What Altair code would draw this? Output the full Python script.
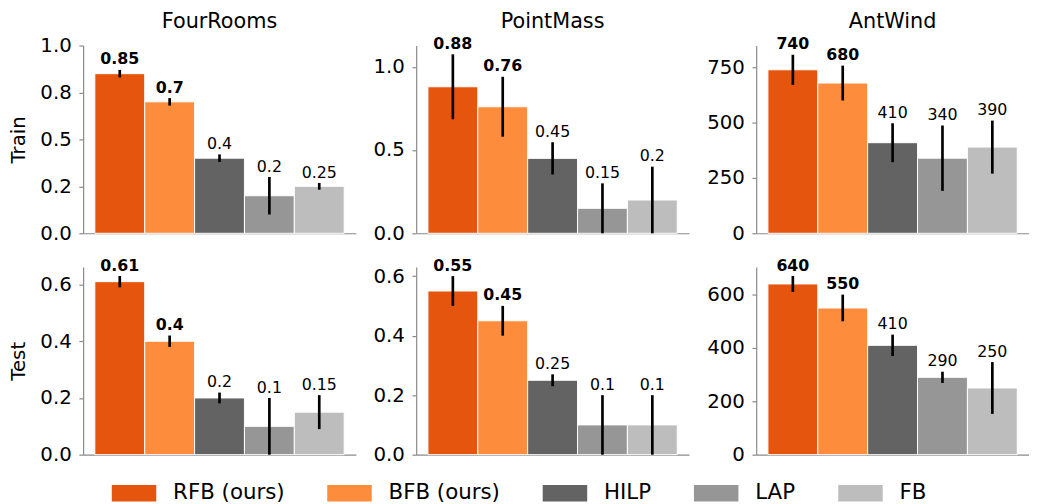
import altair as alt
import pandas as pd

envs = ["FourRooms", "PointMass", "AntWind"]
splits = ["Train", "Test"]
methods = ["RFB (ours)", "BFB (ours)", "HILP", "LAP", "FB"]
colors = ["#e6550d", "#fd8d3c", "#636363", "#969696", "#bdbdbd"]
bold_methods = ["RFB (ours)", "BFB (ours)"]

# values, errors, labels per panel
fourrooms_train_values = [0.85, 0.70, 0.40, 0.20, 0.25]
fourrooms_train_errors = [0.02, 0.02, 0.02, 0.10, 0.018]
fourrooms_train_labels = ["0.85", "0.7", "0.4", "0.2", "0.25"]

pointmass_train_values = [0.88, 0.76, 0.45, 0.15, 0.20]
pointmass_train_errors = [0.195, 0.18, 0.097, 0.15, 0.20]
pointmass_train_labels = ["0.88", "0.76", "0.45", "0.15", "0.2"]

antwind_train_values = [740, 680, 410, 340, 390]
antwind_train_errors = [68, 79, 88, 148, 120]
antwind_train_labels = ["740", "680", "410", "340", "390"]

fourrooms_test_values = [0.61, 0.40, 0.20, 0.10, 0.15]
fourrooms_test_errors = [0.02, 0.02, 0.019, 0.10, 0.06]
fourrooms_test_labels = ["0.61", "0.4", "0.2", "0.1", "0.15"]

pointmass_test_values = [0.55, 0.45, 0.25, 0.10, 0.10]
pointmass_test_errors = [0.05, 0.05, 0.02, 0.10, 0.10]
pointmass_test_labels = ["0.55", "0.45", "0.25", "0.1", "0.1"]

antwind_test_values = [640, 550, 410, 290, 250]
antwind_test_errors = [30, 50, 40, 21, 97]
antwind_test_labels = ["640", "550", "410", "290", "250"]

# axis ticks and domain tops
fourrooms_train_ticks = [0.0, 0.25, 0.5, 0.75, 1.0]
fourrooms_train_ticklabels = ["0.0", "0.2", "0.5", "0.8", "1.0"]
fourrooms_train_ymax = 1.0
pointmass_train_ticks = [0.0, 0.5, 1.0]
pointmass_train_ticklabels = ["0.0", "0.5", "1.0"]
pointmass_train_ymax = 1.128
antwind_train_ticks = [0, 250, 500, 750]
antwind_train_ticklabels = ["0", "250", "500", "750"]
antwind_train_ymax = 850
fourrooms_test_ticks = [0.0, 0.2, 0.4, 0.6]
fourrooms_test_ticklabels = ["0.0", "0.2", "0.4", "0.6"]
fourrooms_test_ymax = 0.662
pointmass_test_ticks = [0.0, 0.2, 0.4, 0.6]
pointmass_test_ticklabels = ["0.0", "0.2", "0.4", "0.6"]
pointmass_test_ymax = 0.631
antwind_test_ticks = [0, 200, 400, 600]
antwind_test_ticklabels = ["0", "200", "400", "600"]
antwind_test_ymax = 704

panels_data = {
    ("FourRooms", "Train"): (fourrooms_train_values, fourrooms_train_errors, fourrooms_train_labels,
                             fourrooms_train_ticks, fourrooms_train_ticklabels, fourrooms_train_ymax),
    ("PointMass", "Train"): (pointmass_train_values, pointmass_train_errors, pointmass_train_labels,
                             pointmass_train_ticks, pointmass_train_ticklabels, pointmass_train_ymax),
    ("AntWind", "Train"): (antwind_train_values, antwind_train_errors, antwind_train_labels,
                           antwind_train_ticks, antwind_train_ticklabels, antwind_train_ymax),
    ("FourRooms", "Test"): (fourrooms_test_values, fourrooms_test_errors, fourrooms_test_labels,
                            fourrooms_test_ticks, fourrooms_test_ticklabels, fourrooms_test_ymax),
    ("PointMass", "Test"): (pointmass_test_values, pointmass_test_errors, pointmass_test_labels,
                            pointmass_test_ticks, pointmass_test_ticklabels, pointmass_test_ymax),
    ("AntWind", "Test"): (antwind_test_values, antwind_test_errors, antwind_test_labels,
                          antwind_test_ticks, antwind_test_ticklabels, antwind_test_ymax),
}

FONT = "DejaVu Sans"
AXIS_GRAY = "#8a8a8a"
W, H = 276, 190

legend = alt.Legend(
    orient="none", legendX=29, legendY=430, direction="horizontal", title=None,
    symbolType="M-1,-0.37H1V0.37H-1Z", symbolSize=2025, symbolStrokeWidth=0,
    symbolOpacity=1, labelFontSize=21.6, labelFont=FONT, labelColor="black",
    labelOffset=17, columnPadding=43,
)


def label_expr(ticks, labels):
    parts = []
    for t, l in zip(ticks, labels):
        parts.append(f"abs(datum.value - ({t})) < 1e-9 ? '{l}'")
    return " : ".join(parts) + " : ''"


def make_panel(env, split, show_title, show_ytitle):
    vals, errs, labs, ticks, ticklabels, ymax = panels_data[(env, split)]
    df = pd.DataFrame({
        "method": methods,
        "value": vals,
        "lo": [v - e for v, e in zip(vals, errs)],
        "hi": [v + e for v, e in zip(vals, errs)],
        "label": labs,
        "bold": [m in bold_methods for m in methods],
    })
    xenc = alt.X("method:N", sort=methods,
                 scale=alt.Scale(paddingInner=0, paddingOuter=0.235),
                 axis=alt.Axis(title=None, labels=False, ticks=False, domain=True,
                               domainColor=AXIS_GRAY, grid=False))
    yscale = alt.Scale(domain=[0, ymax], nice=False, zero=True)
    yaxis = alt.Axis(values=ticks, labelExpr=label_expr(ticks, ticklabels),
                     title=split if show_ytitle else None, grid=False)
    base = alt.Chart(df).encode(x=xenc)
    bars = base.mark_bar(stroke="white", strokeWidth=1).encode(
        y=alt.Y("value:Q", scale=yscale, axis=yaxis),
        color=alt.Color("method:N", sort=methods,
                        scale=alt.Scale(domain=methods, range=colors), legend=legend),
    )
    rules = base.mark_rule(color="black", strokeWidth=2.7).encode(
        y=alt.Y("lo:Q", scale=yscale, axis=yaxis), y2="hi:Q")
    txt_b = base.transform_filter("datum.bold").mark_text(
        fontWeight="bold", fontSize=16, dy=-5.5, baseline="alphabetic", color="black", font=FONT
    ).encode(y=alt.Y("hi:Q", scale=yscale, axis=yaxis), text="label:N")
    txt_n = base.transform_filter("!datum.bold").mark_text(
        fontWeight="normal", fontSize=16, dy=-5.5, baseline="alphabetic", color="black", font=FONT
    ).encode(y=alt.Y("hi:Q", scale=yscale, axis=yaxis), text="label:N")
    layers = [bars, rules, txt_b, txt_n]
    if show_title:
        ttl = alt.Chart(pd.DataFrame({"t": [env]})).mark_text(
            fontSize=21, font=FONT, baseline="alphabetic", align="center", color="black"
        ).encode(text="t:N", x=alt.value(W / 2), y=alt.value(-17.7))
        layers.append(ttl)
    return alt.layer(*layers).properties(width=W, height=H)


panels = []
for r, split in enumerate(splits):
    for c, env in enumerate(envs):
        panels.append(make_panel(env, split, r == 0, c == 0))

chart = alt.concat(*panels, columns=3, spacing={"row": 14, "column": 17}, bounds="full").properties(
    padding=0
).configure(font=FONT).configure_view(stroke=None).configure_axis(
    domainColor=AXIS_GRAY, tickColor=AXIS_GRAY, domainWidth=1.2, tickWidth=1.2,
    labelFontSize=20, labelFont=FONT, labelColor="black", tickSize=4.3, labelPadding=7.7,
    titleFontSize=20, titleFont=FONT, titleFontWeight="normal", titleColor="black",
    titlePadding=11.5, grid=False,
)

chart.save("out.html", embed_options={"renderer": "svg", "actions": False})
